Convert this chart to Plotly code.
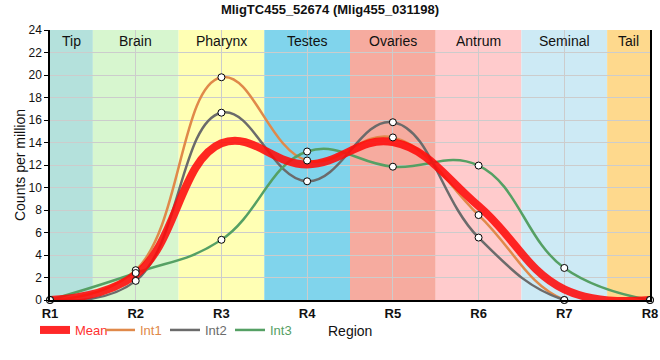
import plotly.graph_objects as go

regions = ["R1", "R2", "R3", "R4", "R5", "R6", "R7", "R8"]
int1 = [0, 2.65, 19.8, 12.4, 14.45, 7.55, 0, 0]
int2 = [0, 1.7, 16.65, 10.55, 15.8, 5.55, 0, 0]
int3 = [0, 2.4, 5.35, 13.2, 11.85, 11.95, 2.85, 0]
mean = [round((a + b + c) / 3, 3) for a, b, c in zip(int1, int2, int3)]

band_names = ["Tip", "Brain", "Pharynx", "Testes", "Ovaries", "Antrum", "Seminal", "Tail"]
band_colors = ["#b4e1dc", "#d7f6cf", "#ffffb4", "#80d4ec", "#f6ab9f", "#ffcbcc", "#cdeaf5", "#fed98d"]

xs = list(range(len(regions)))

fig = go.Figure()

shapes = []
annotations = []
for i, (nm, col) in enumerate(zip(band_names, band_colors)):
    x0 = max(i - 0.5, 0)
    x1 = min(i + 0.5, len(regions) - 1)
    shapes.append(dict(type="rect", xref="x", yref="paper", x0=x0, x1=x1, y0=0, y1=1,
                       fillcolor=col, line=dict(width=0), layer="below"))
    annotations.append(dict(x=(x0 + x1) / 2, y=0.96, xref="x", yref="paper", text=nm,
                            showarrow=False, font=dict(size=14, color="#111"),
                            xanchor="center", yanchor="middle"))

# x-axis title
annotations.append(dict(x=0.5, y=-31 / 270, xref="paper", yref="paper", text="Region",
                        showarrow=False, font=dict(size=14, color="#111"),
                        xanchor="center", yanchor="middle"))

series = [
    ("Int1", int1, "#e0894a", 2.5, 2),
    ("Int2", int2, "#6b6b6b", 2.5, 3),
    ("Int3", int3, "#55a064", 2.5, 4),
]
for name, vals, col, w, rank in series:
    fig.add_trace(go.Scatter(
        x=xs, y=vals, mode="lines", line=dict(color=col, width=w, shape="spline", smoothing=1.2),
        name=f"<span style='color:{col}'>{name}</span>", legendrank=rank))

fig.add_trace(go.Scatter(
    x=xs, y=mean, mode="lines",
    line=dict(color="rgba(255,10,10,0.88)", width=8, shape="spline", smoothing=1.2),
    name="<span style='color:#ff3030'>Mean</span>", legendrank=1))

for name, vals, col, w, rank in series:
    fig.add_trace(go.Scatter(
        x=xs, y=vals, mode="markers", showlegend=False, cliponaxis=False,
        marker=dict(symbol="circle", size=7, color="white", line=dict(color="black", width=1))))

fig.update_layout(
    width=660, height=360,
    margin=dict(l=50, r=10, t=30, b=60, autoexpand=False),
    paper_bgcolor="white", plot_bgcolor="white",
    font=dict(family="Liberation Sans, Arial, sans-serif", size=12, color="#111"),
    title=dict(text="<b>MligTC455_52674 (Mlig455_031198)</b>", x=0.5, xanchor="center",
               y=1 - 9 / 360, yanchor="middle", font=dict(size=13)),
    shapes=shapes, annotations=annotations,
    showlegend=True,
    legend=dict(orientation="h", xref="container", x=35 / 660, xanchor="left",
                yref="container", y=1 - 330 / 360, yanchor="middle",
                font=dict(size=13), itemwidth=30, entrywidth=20, bgcolor="rgba(0,0,0,0)"),
)
fig.update_xaxes(
    range=[0, len(regions) - 1], tickvals=xs, ticktext=regions, automargin=False,
    showgrid=True, gridcolor="#cccccc", gridwidth=1, zeroline=False,
    showline=True, linecolor="black", linewidth=2, mirror=False,
    tickfont=dict(size=13, weight="bold"), ticks="",
)
fig.update_yaxes(
    range=[0, 24], dtick=2, showgrid=True, gridcolor="#cccccc", gridwidth=1, zeroline=False,
    showline=True, linecolor="black", linewidth=1.5, mirror=True, automargin=False,
    ticks="outside", ticklen=4, tickcolor="black", tickfont=dict(size=12),
    title=dict(text="Counts per million", font=dict(size=14), standoff=0),
)

fig.write_html("out.html", config={"displayModeBar": False},
               post_script="document.body.style.margin='0';document.body.style.padding='0';")
